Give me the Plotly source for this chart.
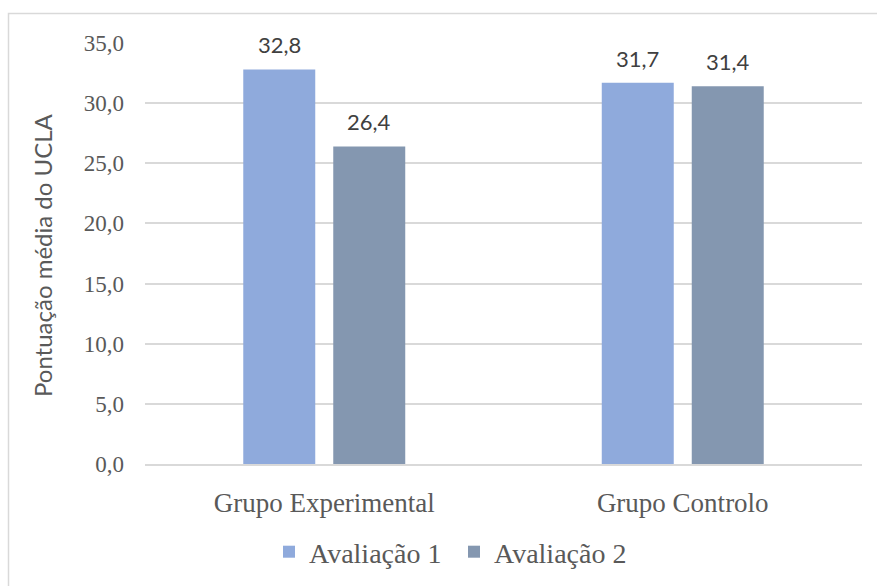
import plotly.graph_objects as go

# Mean UCLA loneliness score per group, before and after
grupos = ["Grupo Experimental", "Grupo Controlo"]
avaliacao_1 = [32.8, 31.7]
avaliacao_2 = [26.4, 31.4]
series_nomes = ["Avaliação 1", "Avaliação 2"]
series_cores = ["#8FAADC", "#8497B0"]
y_ticks = [0, 5, 10, 15, 20, 25, 30, 35]
y_tick_labels = ["0,0", "5,0", "10,0", "15,0", "20,0", "25,0", "30,0", "35,0"]

W, H = 877, 586
L, R, T, B = 145, 15, 43, 122
plot_w = W - L - R
plot_h = H - T - B

serif = "Liberation Serif"
sans = "Lato"

fig = go.Figure()
for nome, valores, cor in zip(series_nomes, [avaliacao_1, avaliacao_2], series_cores):
    fig.add_trace(go.Bar(
        x=grupos, y=valores, name=nome,
        marker=dict(color=cor, line=dict(width=0)),
    ))

# value labels above each bar
bar_offset = 45
for valores, shift in zip([avaliacao_1, avaliacao_2], [-bar_offset, bar_offset]):
    for g, v in zip(grupos, valores):
        fig.add_annotation(
            x=g, y=v, xref="x", yref="y",
            text=f"{v:.1f}".replace(".", ","),
            showarrow=False, xshift=shift, yshift=9,
            yanchor="bottom", xanchor="center",
            font=dict(family=sans, size=22, color="#404040"),
        )

# y-axis title
fig.add_annotation(
    x=(42 - L) / plot_w, y=(464 - 255) / plot_h, xref="paper", yref="paper",
    text="Pontuação média do UCLA", textangle=-90, showarrow=False,
    xanchor="center", yanchor="middle",
    font=dict(family=sans, size=24, color="#595959"),
)

# chart frame
fig.add_shape(
    type="rect", xref="paper", yref="paper",
    x0=(8.5 - L) / plot_w, x1=(W + 20 - L) / plot_w,
    y0=-(H + 20 - T - plot_h) / plot_h, y1=(T + plot_h - 13.5) / plot_h,
    line=dict(color="#D9D9D9", width=1.5), fillcolor="rgba(0,0,0,0)", layer="below",
)

fig.update_layout(
    width=W, height=H,
    margin=dict(l=L, r=R, t=T, b=B, autoexpand=False),
    paper_bgcolor="white", plot_bgcolor="white",
    barmode="group", bargap=0.498, bargroupgap=0.2,
    showlegend=True,
    legend=dict(
        orientation="h", x=(454 - L) / plot_w, xanchor="center",
        y=-(552 - T - plot_h) / plot_h, yanchor="middle",
        font=dict(family=serif, size=28, color="#595959"),
        itemwidth=30, traceorder="normal", entrywidth=140,
    ),
    xaxis=dict(
        showgrid=False, showline=True, linecolor="#D9D9D9", linewidth=1.5,
        ticks="", ticklabelstandoff=14,
        tickfont=dict(family=serif, size=27, color="#595959"),
    ),
    yaxis=dict(
        range=[0, 35], tickvals=y_ticks, ticktext=y_tick_labels,
        showgrid=True, gridcolor="#D9D9D9", gridwidth=1.5,
        zeroline=False, showline=False, ticks="", ticklabelstandoff=20,
        tickfont=dict(family=serif, size=23, color="#595959"),
    ),
)

fig.write_html("out.html")
